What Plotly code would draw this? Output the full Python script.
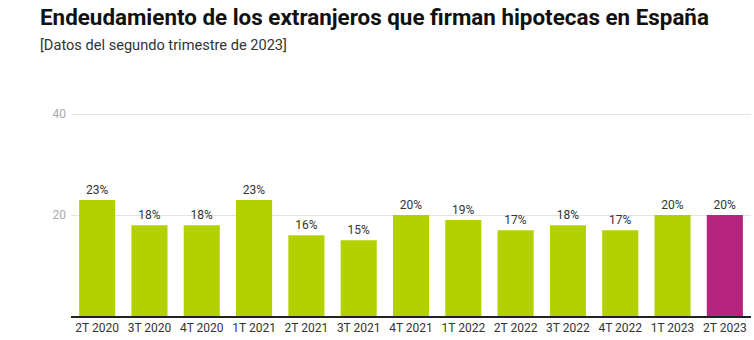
import plotly.graph_objects as go

categories = ["2T 2020", "3T 2020", "4T 2020", "1T 2021", "2T 2021", "3T 2021", "4T 2021",
              "1T 2022", "2T 2022", "3T 2022", "4T 2022", "1T 2023", "2T 2023"]
values = [23, 18, 18, 23, 16, 15, 20, 19, 17, 18, 17, 20, 20]
labels = [f"{v}%" for v in values]
colors = ["#b3d100"] * (len(values) - 1) + ["#b5257e"]

fig = go.Figure(go.Bar(
    x=categories, y=values, marker=dict(color=colors, line=dict(width=0)),
    text=labels, textposition="outside", cliponaxis=False,
    textfont=dict(family="Roboto, sans-serif", size=12, color="#333333"),
    hoverinfo="skip",
))

fig.update_layout(
    width=754, height=340,
    margin=dict(l=71, r=3, t=104, b=24),
    paper_bgcolor="white", plot_bgcolor="white",
    bargap=0.31,
    showlegend=False,
    xaxis=dict(showline=True, linecolor="#222222", linewidth=1.5, ticks="",
               tickfont=dict(family="Roboto, sans-serif", size=12, color="#333333")),
    yaxis=dict(range=[0, 42], tickvals=[20, 40], ticktext=["20", "40"],
               showgrid=True, gridcolor="#e3e3e3", gridwidth=1, zeroline=False,
               ticks="", ticklabelstandoff=4,
               tickfont=dict(family="Roboto, sans-serif", size=12, color="#aaaaaa")),
    font=dict(family="Roboto, sans-serif"),
    annotations=[
        dict(text="<b>Endeudamiento de los extranjeros que firman hipotecas en España</b>",
             xref="paper", yref="paper", x=-0.048, y=1.0, xanchor="left", yanchor="bottom",
             yshift=72, showarrow=False,
             font=dict(family="Liberation Sans Narrow, Roboto, sans-serif", size=22.4, color="#111111")),
        dict(text="[Datos del segundo trimestre de 2023]",
             xref="paper", yref="paper", x=-0.048, y=1.0, xanchor="left", yanchor="bottom",
             yshift=48, showarrow=False,
             font=dict(family="Liberation Sans Narrow, Roboto, sans-serif", size=14.6, color="#333333")),
    ],
)

fig.write_html("out.html")
